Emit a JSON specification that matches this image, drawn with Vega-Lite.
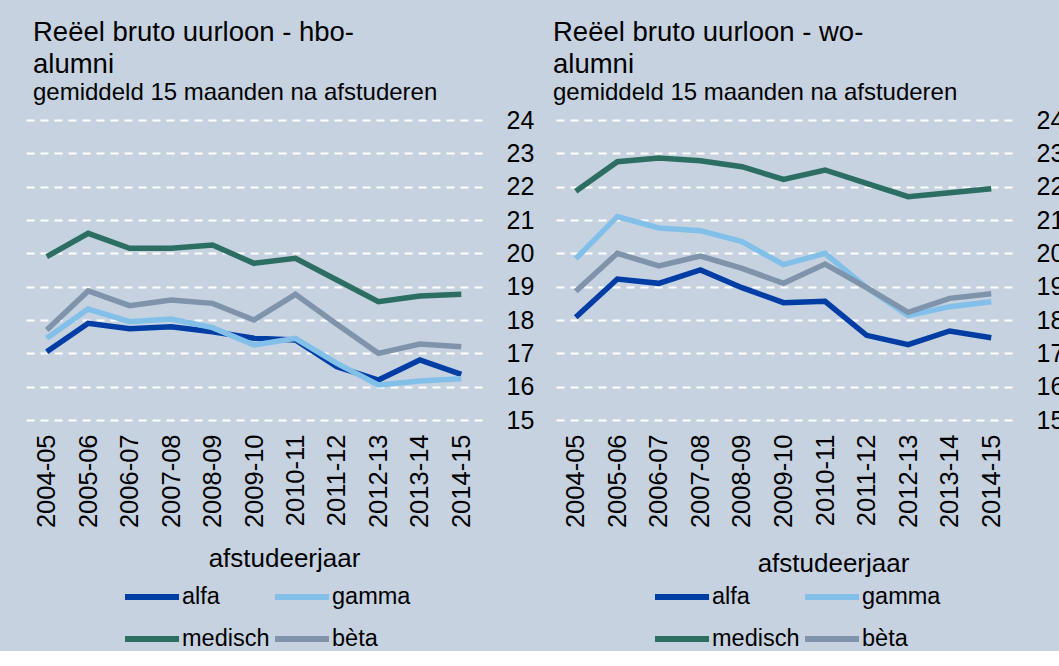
{
  "$schema": "https://vega.github.io/schema/vega-lite/v6.json",
  "background": "#c6d2df",
  "padding": {"left": 26, "top": 18, "right": 0, "bottom": 0},
  "datasets": {
    "hbo": [
      {"jaar": "2004-05", "richting": "alfa", "loon": 17.05},
      {"jaar": "2005-06", "richting": "alfa", "loon": 17.9},
      {"jaar": "2006-07", "richting": "alfa", "loon": 17.74},
      {"jaar": "2007-08", "richting": "alfa", "loon": 17.8},
      {"jaar": "2008-09", "richting": "alfa", "loon": 17.65},
      {"jaar": "2009-10", "richting": "alfa", "loon": 17.45},
      {"jaar": "2010-11", "richting": "alfa", "loon": 17.4},
      {"jaar": "2011-12", "richting": "alfa", "loon": 16.6},
      {"jaar": "2012-13", "richting": "alfa", "loon": 16.2},
      {"jaar": "2013-14", "richting": "alfa", "loon": 16.8},
      {"jaar": "2014-15", "richting": "alfa", "loon": 16.37},
      {"jaar": "2004-05", "richting": "gamma", "loon": 17.45},
      {"jaar": "2005-06", "richting": "gamma", "loon": 18.33},
      {"jaar": "2006-07", "richting": "gamma", "loon": 17.95},
      {"jaar": "2007-08", "richting": "gamma", "loon": 18.03},
      {"jaar": "2008-09", "richting": "gamma", "loon": 17.77},
      {"jaar": "2009-10", "richting": "gamma", "loon": 17.25},
      {"jaar": "2010-11", "richting": "gamma", "loon": 17.45},
      {"jaar": "2011-12", "richting": "gamma", "loon": 16.7},
      {"jaar": "2012-13", "richting": "gamma", "loon": 16.05},
      {"jaar": "2013-14", "richting": "gamma", "loon": 16.17},
      {"jaar": "2014-15", "richting": "gamma", "loon": 16.24},
      {"jaar": "2004-05", "richting": "medisch", "loon": 19.9},
      {"jaar": "2005-06", "richting": "medisch", "loon": 20.6},
      {"jaar": "2006-07", "richting": "medisch", "loon": 20.15},
      {"jaar": "2007-08", "richting": "medisch", "loon": 20.15},
      {"jaar": "2008-09", "richting": "medisch", "loon": 20.25},
      {"jaar": "2009-10", "richting": "medisch", "loon": 19.7},
      {"jaar": "2010-11", "richting": "medisch", "loon": 19.85},
      {"jaar": "2011-12", "richting": "medisch", "loon": 19.2},
      {"jaar": "2012-13", "richting": "medisch", "loon": 18.55},
      {"jaar": "2013-14", "richting": "medisch", "loon": 18.72},
      {"jaar": "2014-15", "richting": "medisch", "loon": 18.77},
      {"jaar": "2004-05", "richting": "bèta", "loon": 17.7},
      {"jaar": "2005-06", "richting": "bèta", "loon": 18.87},
      {"jaar": "2006-07", "richting": "bèta", "loon": 18.43},
      {"jaar": "2007-08", "richting": "bèta", "loon": 18.6},
      {"jaar": "2008-09", "richting": "bèta", "loon": 18.5},
      {"jaar": "2009-10", "richting": "bèta", "loon": 18.0},
      {"jaar": "2010-11", "richting": "bèta", "loon": 18.77},
      {"jaar": "2011-12", "richting": "bèta", "loon": 17.87},
      {"jaar": "2012-13", "richting": "bèta", "loon": 17.0},
      {"jaar": "2013-14", "richting": "bèta", "loon": 17.28},
      {"jaar": "2014-15", "richting": "bèta", "loon": 17.2}
    ],
    "wo": [
      {"jaar": "2004-05", "richting": "alfa", "loon": 18.08},
      {"jaar": "2005-06", "richting": "alfa", "loon": 19.23},
      {"jaar": "2006-07", "richting": "alfa", "loon": 19.1},
      {"jaar": "2007-08", "richting": "alfa", "loon": 19.5},
      {"jaar": "2008-09", "richting": "alfa", "loon": 18.97},
      {"jaar": "2009-10", "richting": "alfa", "loon": 18.52},
      {"jaar": "2010-11", "richting": "alfa", "loon": 18.56},
      {"jaar": "2011-12", "richting": "alfa", "loon": 17.54},
      {"jaar": "2012-13", "richting": "alfa", "loon": 17.26},
      {"jaar": "2013-14", "richting": "alfa", "loon": 17.67},
      {"jaar": "2014-15", "richting": "alfa", "loon": 17.47},
      {"jaar": "2004-05", "richting": "gamma", "loon": 19.84},
      {"jaar": "2005-06", "richting": "gamma", "loon": 21.1},
      {"jaar": "2006-07", "richting": "gamma", "loon": 20.76},
      {"jaar": "2007-08", "richting": "gamma", "loon": 20.68},
      {"jaar": "2008-09", "richting": "gamma", "loon": 20.35},
      {"jaar": "2009-10", "richting": "gamma", "loon": 19.66},
      {"jaar": "2010-11", "richting": "gamma", "loon": 20.0},
      {"jaar": "2011-12", "richting": "gamma", "loon": 18.97},
      {"jaar": "2012-13", "richting": "gamma", "loon": 18.13},
      {"jaar": "2013-14", "richting": "gamma", "loon": 18.4},
      {"jaar": "2014-15", "richting": "gamma", "loon": 18.55},
      {"jaar": "2004-05", "richting": "medisch", "loon": 21.86},
      {"jaar": "2005-06", "richting": "medisch", "loon": 22.75},
      {"jaar": "2006-07", "richting": "medisch", "loon": 22.86},
      {"jaar": "2007-08", "richting": "medisch", "loon": 22.78},
      {"jaar": "2008-09", "richting": "medisch", "loon": 22.6},
      {"jaar": "2009-10", "richting": "medisch", "loon": 22.22},
      {"jaar": "2010-11", "richting": "medisch", "loon": 22.5},
      {"jaar": "2011-12", "richting": "medisch", "loon": 22.1},
      {"jaar": "2012-13", "richting": "medisch", "loon": 21.7},
      {"jaar": "2013-14", "richting": "medisch", "loon": 21.82},
      {"jaar": "2014-15", "richting": "medisch", "loon": 21.94},
      {"jaar": "2004-05", "richting": "bèta", "loon": 18.86},
      {"jaar": "2005-06", "richting": "bèta", "loon": 20.0},
      {"jaar": "2006-07", "richting": "bèta", "loon": 19.62},
      {"jaar": "2007-08", "richting": "bèta", "loon": 19.92},
      {"jaar": "2008-09", "richting": "bèta", "loon": 19.55},
      {"jaar": "2009-10", "richting": "bèta", "loon": 19.1},
      {"jaar": "2010-11", "richting": "bèta", "loon": 19.68},
      {"jaar": "2011-12", "richting": "bèta", "loon": 18.97},
      {"jaar": "2012-13", "richting": "bèta", "loon": 18.23},
      {"jaar": "2013-14", "richting": "bèta", "loon": 18.65},
      {"jaar": "2014-15", "richting": "bèta", "loon": 18.79}
    ]
  },
  "spacing": 19,
  "resolve": {"scale": {"color": "independent", "y": "independent", "x": "independent"}, "legend": {"color": "independent"}},
  "hconcat": [
    {
      "width": 456,
      "height": 300,
      "data": {"name": "hbo"},
      "title": {"text": ["Reëel bruto uurloon - hbo-", "alumni"], "subtitle": "gemiddeld 15 maanden na afstuderen", "dx": 7},
      "mark": {"type": "line", "strokeWidth": 5.5},
      "encoding": {
        "x": {"field": "jaar", "type": "ordinal", "scale": {"type": "point", "padding": 0.5}, "axis": {"title": "afstudeerjaar", "titlePadding": 18, "titleX": 258}},
        "y": {"field": "loon", "type": "quantitative", "scale": {"domain": [15, 24], "nice": false, "zero": false}, "axis": {"orient": "right", "values": [15, 16, 17, 18, 19, 20, 21, 22, 23, 24], "title": null}},
        "color": {"field": "richting", "type": "nominal", "sort": ["alfa", "gamma", "medisch", "bèta"], "scale": {"domain": ["alfa", "gamma", "medisch", "bèta"], "range": ["#003da5", "#82c0ea", "#2c6e62", "#7f94ab"]}, "legend": {"legendX": 96, "legendY": 447}}
      }
    },
    {
      "width": 457,
      "height": 300,
      "data": {"name": "wo"},
      "title": {"text": ["Reëel bruto uurloon - wo-", "alumni"], "subtitle": "gemiddeld 15 maanden na afstuderen", "dx": -2},
      "mark": {"type": "line", "strokeWidth": 5.5},
      "encoding": {
        "x": {"field": "jaar", "type": "ordinal", "scale": {"type": "point", "padding": 0.5}, "axis": {"title": "afstudeerjaar", "titlePadding": 23, "titleX": 278}},
        "y": {"field": "loon", "type": "quantitative", "scale": {"domain": [15, 24], "nice": false, "zero": false}, "axis": {"orient": "right", "values": [15, 16, 17, 18, 19, 20, 21, 22, 23, 24], "title": null}},
        "color": {"field": "richting", "type": "nominal", "sort": ["alfa", "gamma", "medisch", "bèta"], "scale": {"domain": ["alfa", "gamma", "medisch", "bèta"], "range": ["#003da5", "#82c0ea", "#2c6e62", "#7f94ab"]}, "legend": {"legendX": 97, "legendY": 447}}
      }
    }
  ],
  "config": {
    "font": "Liberation Sans",
    "view": {"stroke": null},
    "title": {"anchor": "start", "frame": "group", "font": "Liberation Sans", "fontSize": 27.5, "fontWeight": "normal", "color": "#000000", "lineHeight": 32, "subtitleFont": "Liberation Sans", "subtitleFontSize": 24, "subtitleColor": "#000000", "subtitlePadding": 3, "offset": 3},
    "axis": {"domain": false, "ticks": false, "labelFont": "Liberation Sans", "labelColor": "#000000", "titleFont": "Liberation Sans", "titleColor": "#000000", "titleFontWeight": "normal"},
    "axisY": {"grid": true, "gridColor": "#ffffff", "gridWidth": 2, "gridDash": [8, 6], "gridOpacity": 1, "labelFontSize": 25, "labelPadding": 24},
    "axisX": {"grid": false, "labelAngle": 270, "labelFontSize": 25.5, "labelPadding": 14, "titleFontSize": 26},
    "legend": {"orient": "none", "columns": 2, "direction": "horizontal", "title": null, "symbolType": "stroke", "symbolSize": 2916, "symbolStrokeWidth": 6, "labelFont": "Liberation Sans", "labelFontSize": 23.5, "labelColor": "#000000", "labelOffset": 0, "columnPadding": -7, "rowPadding": -14, "padding": 0, "labelLimit": 300}
  }
}
